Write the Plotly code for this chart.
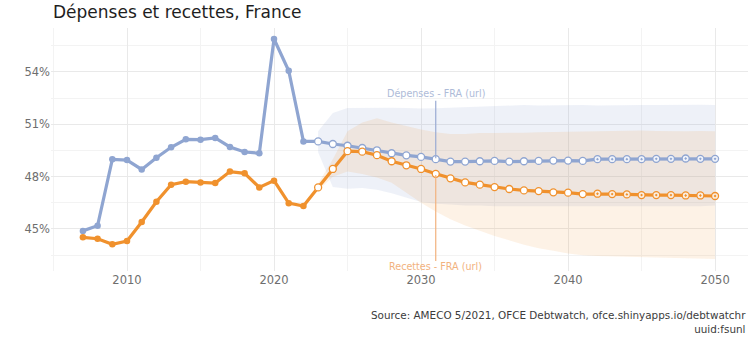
import plotly.graph_objects as go

# ---------------- data ----------------
years_hist = list(range(2007, 2023))
dep_hist = [44.89, 45.19, 48.99, 48.95, 48.41, 49.08, 49.68, 50.14, 50.12, 50.22,
            49.70, 49.41, 49.34, 55.89, 54.07, 50.02]
rec_hist = [44.52, 44.44, 44.12, 44.31, 45.40, 46.56, 47.54, 47.71, 47.67, 47.63,
            48.29, 48.19, 47.38, 47.77, 46.48, 46.31]

years_fc = list(range(2022, 2051))
dep_fc = [50.02, 50.02, 49.87, 49.77, 49.64, 49.51, 49.34, 49.22, 49.13, 49.00,
          48.86, 48.86, 48.88, 48.90, 48.86, 48.88, 48.90, 48.92, 48.92, 48.90,
          49.00, 49.00, 49.00, 49.00, 49.02, 49.02, 49.04, 49.02, 49.02]
rec_fc = [46.31, 47.38, 48.44, 49.46, 49.43, 49.23, 48.88, 48.65, 48.44, 48.16,
          47.90, 47.67, 47.54, 47.40, 47.29, 47.21, 47.17, 47.10, 47.08, 47.00,
          47.02, 47.00, 46.98, 46.94, 46.94, 46.94, 46.92, 46.92, 46.89]

band_years = list(range(2023, 2051))
dep_band_hi = [50.60, 51.65, 51.94, 51.95, 51.95, 51.95, 51.93, 51.90, 51.92, 51.95,
               52.00, 52.05, 52.05, 52.08, 52.10, 52.08, 52.10, 52.12, 52.10, 52.08,
               52.10, 52.12, 52.10, 52.10, 52.12, 52.10, 52.12, 52.10]
dep_band_lo = [49.40, 47.40, 47.30, 47.35, 47.25, 47.05, 46.80, 46.55, 46.45, 46.40,
               46.35, 46.35, 46.30, 46.30, 46.30, 46.30, 46.30, 46.30, 46.30, 46.30,
               46.30, 46.30, 46.30, 46.30, 46.30, 46.30, 46.30, 46.35]
rec_band_hi = [47.60, 49.00, 50.60, 51.10, 51.35, 51.10, 50.90, 50.70, 50.55, 50.45,
               50.45, 50.50, 50.50, 50.50, 50.52, 50.55, 50.55, 50.55, 50.58, 50.60,
               50.62, 50.65, 50.65, 50.62, 50.60, 50.60, 50.62, 50.60]
rec_band_lo = [47.20, 48.00, 48.30, 48.15, 47.95, 47.65, 47.10, 46.50, 46.00, 45.55,
               45.20, 44.90, 44.60, 44.35, 44.10, 43.90, 43.75, 43.60, 43.50, 43.45,
               43.40, 43.38, 43.35, 43.33, 43.32, 43.30, 43.30, 43.28]

x_ticks = [2010, 2020, 2030, 2040, 2050]
y_ticks = [45, 48, 51, 54]
y_tick_labels = ["45%", "48%", "51%", "54%"]

title_text = "Dépenses et recettes, France"
caption_lines = ["Source: AMECO 5/2021, OFCE Debtwatch, ofce.shinyapps.io/debtwatchr",
                 "uuid:fsunl"]
label_dep = "Dépenses - FRA (url)"
label_rec = "Recettes - FRA (url)"
label_year = 2031

# ---------------- style ----------------
BLUE = "#8FA5D1"
ORANGE = "#F0912D"
FONT = "DejaVu Sans"
dot_from = 2042

fig = go.Figure()

def band(xs, lo, hi, color):
    fig.add_trace(go.Scatter(
        x=xs + xs[::-1], y=hi + lo[::-1], fill="toself", fillcolor=color,
        line=dict(width=0), mode="lines", hoverinfo="skip", showlegend=False))

band(band_years, dep_band_lo, dep_band_hi, "rgba(141,164,208,0.15)")
band(band_years, rec_band_lo, rec_band_hi, "rgba(240,146,46,0.12)")

def series(yh, yf, color, fade):
    fig.add_trace(go.Scatter(x=years_hist + years_fc[1:], y=yh + yf[1:], mode="lines",
                             line=dict(color=color, width=3.2), hoverinfo="skip",
                             showlegend=False))
    fig.add_trace(go.Scatter(x=years_hist, y=yh, mode="markers",
                             marker=dict(color=color, size=6.5, line=dict(width=0)),
                             showlegend=False))
    xf = years_fc[1:]
    vf = yf[1:]
    xa = [x for x in xf if x < dot_from]
    ya = [v for x, v in zip(xf, vf) if x < dot_from]
    xb = [x for x in xf if x >= dot_from]
    yb = [v for x, v in zip(xf, vf) if x >= dot_from]
    fig.add_trace(go.Scatter(x=xa, y=ya, mode="markers",
                             marker=dict(color="white", size=7,
                                         line=dict(color=color, width=1.3)),
                             showlegend=False))
    fig.add_trace(go.Scatter(x=xb, y=yb, mode="markers",
                             marker=dict(color=fade, size=7, symbol="circle-dot",
                                         line=dict(color=color, width=1.3)),
                             showlegend=False))

series(dep_hist, dep_fc, BLUE, "rgba(240,243,250,1)")
series(rec_hist, rec_fc, ORANGE, "rgba(250,238,226,1)")

# labels with leader lines
dep_at = dep_fc[years_fc.index(label_year)]
rec_at = rec_fc[years_fc.index(label_year)]
dep_label_y = 52.75
rec_label_y = 42.86
fig.add_shape(type="line", x0=label_year, x1=label_year, y0=dep_at + 0.05, y1=dep_label_y - 0.4,
              line=dict(color="#9AABD3", width=1.2))
fig.add_shape(type="line", x0=label_year, x1=label_year, y0=rec_at - 0.07, y1=rec_label_y + 0.3,
              line=dict(color="#F2B27E", width=1.2))
fig.add_annotation(x=label_year, y=dep_label_y, text=label_dep, showarrow=False,
                   font=dict(family=FONT, size=9.6, color="#AEBBD8"), xanchor="center",
                   yanchor="middle")
fig.add_annotation(x=label_year, y=rec_label_y, text=label_rec, showarrow=False,
                   font=dict(family=FONT, size=9.6, color="#F2B27E"), xanchor="center",
                   yanchor="middle")

# title + caption
fig.add_annotation(xref="paper", yref="paper", x=0.0, y=1.0, yshift=16,
                   text=title_text, showarrow=False, xanchor="left", yanchor="middle",
                   font=dict(family=FONT, size=17, color="#1E1E1E"))
fig.add_annotation(xref="paper", yref="paper", x=1.0, y=0, yshift=-36,
                   text="<br>".join(caption_lines), showarrow=False, align="right",
                   xanchor="right", yanchor="top",
                   font=dict(family=FONT, size=10.4, color="#3C3C3C"))

fig.update_layout(
    width=754, height=337,
    margin=dict(l=51, r=6, t=28, b=66),
    paper_bgcolor="white", plot_bgcolor="white",
    font=dict(family=FONT, size=11.5, color="#707070"),
    xaxis=dict(range=[2004.83, 2052.24], tickvals=x_ticks, showgrid=True,
               gridcolor="#E9E9E9", gridwidth=1, zeroline=False, showline=False,
               ticks="", tickfont=dict(size=11.5, color="#6E6E6E"),
               minor=dict(dtick=5, tick0=2005, showgrid=True, gridcolor="#F3F3F3",
                          gridwidth=1)),
    yaxis=dict(range=[42.59, 56.52], tickvals=y_ticks, ticktext=y_tick_labels,
               showgrid=True, gridcolor="#E9E9E9", gridwidth=1, zeroline=False,
               showline=False, ticks="", ticklen=4,
               tickfont=dict(size=11.5, color="#6E6E6E"),
               minor=dict(dtick=1.5, tick0=43.5, showgrid=True, gridcolor="#F3F3F3",
                          gridwidth=1)),
    showlegend=False,
)

fig.write_html("out.html")
